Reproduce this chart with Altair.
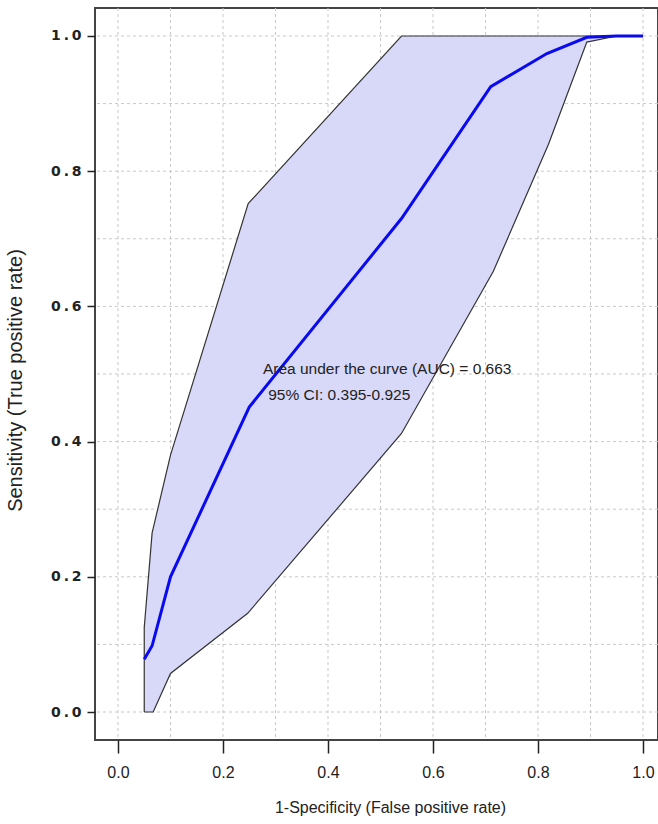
import altair as alt
import pandas as pd

# ROC curve (1 - specificity vs sensitivity)
fpr = [0.05, 0.065, 0.1, 0.25, 0.54, 0.71, 0.817, 0.893, 0.95, 1.0]
tpr = [0.078, 0.098, 0.2, 0.451, 0.73, 0.925, 0.974, 0.998, 1.0, 1.0]

# 95% confidence band boundaries
ci_lower_fpr = [0.05, 0.067, 0.1, 0.247, 0.54, 0.715, 0.82, 0.893, 0.95, 1.0]
ci_lower_tpr = [0.0, 0.0, 0.057, 0.146, 0.412, 0.652, 0.84, 0.991, 1.0, 1.0]
ci_upper_fpr = [0.05, 0.065, 0.1, 0.248, 0.54, 1.0]
ci_upper_tpr = [0.125, 0.265, 0.38, 0.752, 1.0, 1.0]

grid_ticks = [0.0, 0.1, 0.2, 0.3, 0.4, 0.5, 0.6, 0.7, 0.8, 0.9, 1.0]
axis_ticks = [0.0, 0.2, 0.4, 0.6, 0.8, 1.0]

auc_lines = ["Area under the curve (AUC) = 0.663", "95% CI: 0.395-0.925"]
auc_x = [0.276, 0.286]
auc_y = [0.507, 0.469]

X_TITLE = "1-Specificity (False positive rate)"
Y_TITLE = "Sensitivity (True positive rate)"
NARROW = "Liberation Sans Narrow, Liberation Sans, sans-serif"

roc_df = pd.DataFrame({"fpr": fpr, "tpr": tpr, "i": list(range(len(fpr)))})

poly_x = ci_lower_fpr + ci_upper_fpr[::-1] + [ci_lower_fpr[0]]
poly_y = ci_lower_tpr + ci_upper_tpr[::-1] + [ci_lower_tpr[0]]
band_df = pd.DataFrame({"fpr": poly_x, "tpr": poly_y, "i": list(range(len(poly_x)))})

grid_df = pd.DataFrame({"v": grid_ticks})
text_df = pd.DataFrame({"fpr": auc_x, "tpr": auc_y, "label": auc_lines})

xscale = alt.Scale(domain=[-0.0438, 1.0286], nice=False, zero=False)
yscale = alt.Scale(domain=[-0.0414, 1.0414], nice=False, zero=False)

x_axis = alt.Axis(
    values=axis_ticks, format=".1f", grid=False, domain=False,
    tickSize=13, tickWidth=1.5, tickColor="#222",
    labelFont=NARROW, labelFontSize=16, labelColor="#222", labelPadding=11,
    titleFont=NARROW, titleFontSize=16, titleFontWeight="normal", titleColor="#222",
    titleX=295, titleY=67, titleBaseline="middle", titleAlign="center",
)
y_axis = alt.Axis(
    values=axis_ticks, grid=False, domain=False,
    labelExpr="replace(format(datum.value, '.1f'), '.', '\u2009.\u2009')",
    tickSize=8, tickWidth=1.5, tickColor="#222",
    labelFont="DejaVu Sans", labelFontWeight="bold", labelFontSize=14,
    labelColor="#222", labelPadding=6,
    titleFont="Liberation Sans, sans-serif", titleFontSize=20, titleFontWeight="normal",
    titleColor="#222", titleX=-80, titleY=372, titleAngle=270,
    titleBaseline="middle", titleAlign="center",
)


def xe(field):
    return alt.X(f"{field}:Q", scale=xscale, axis=x_axis, title=X_TITLE)


def ye(field):
    return alt.Y(f"{field}:Q", scale=yscale, axis=y_axis, title=Y_TITLE)


vgrid = alt.Chart(grid_df).mark_rule(
    color="#c8c8c8", strokeWidth=1, strokeDash=[3, 3]
).encode(x=xe("v"))

hgrid = alt.Chart(grid_df).mark_rule(
    color="#c8c8c8", strokeWidth=1, strokeDash=[3, 3]
).encode(y=ye("v"))

band = alt.Chart(band_df).mark_line(
    fill="#d8d8f8", stroke="#333333", strokeWidth=1.2, interpolate="linear"
).encode(x=xe("fpr"), y=ye("tpr"), order="i:Q")

curve = alt.Chart(roc_df).mark_line(
    color="#0a0af0", strokeWidth=3
).encode(x=xe("fpr"), y=ye("tpr"), order="i:Q")

labels = alt.Chart(text_df).mark_text(
    align="left", baseline="middle", font=NARROW, fontSize=15.5, color="#222"
).encode(x=xe("fpr"), y=ye("tpr"), text="label:N")

chart = alt.layer(vgrid, hgrid, band, curve, labels).properties(
    width=563,
    height=732,
    autosize=alt.AutoSizeParams(type="none"),
    padding={"left": 95, "top": 8, "right": 0, "bottom": 80},
    background="white",
).configure_view(
    stroke="#444444", strokeWidth=2
)

chart.save("out.html", embed_options={"renderer": "svg", "actions": False})
